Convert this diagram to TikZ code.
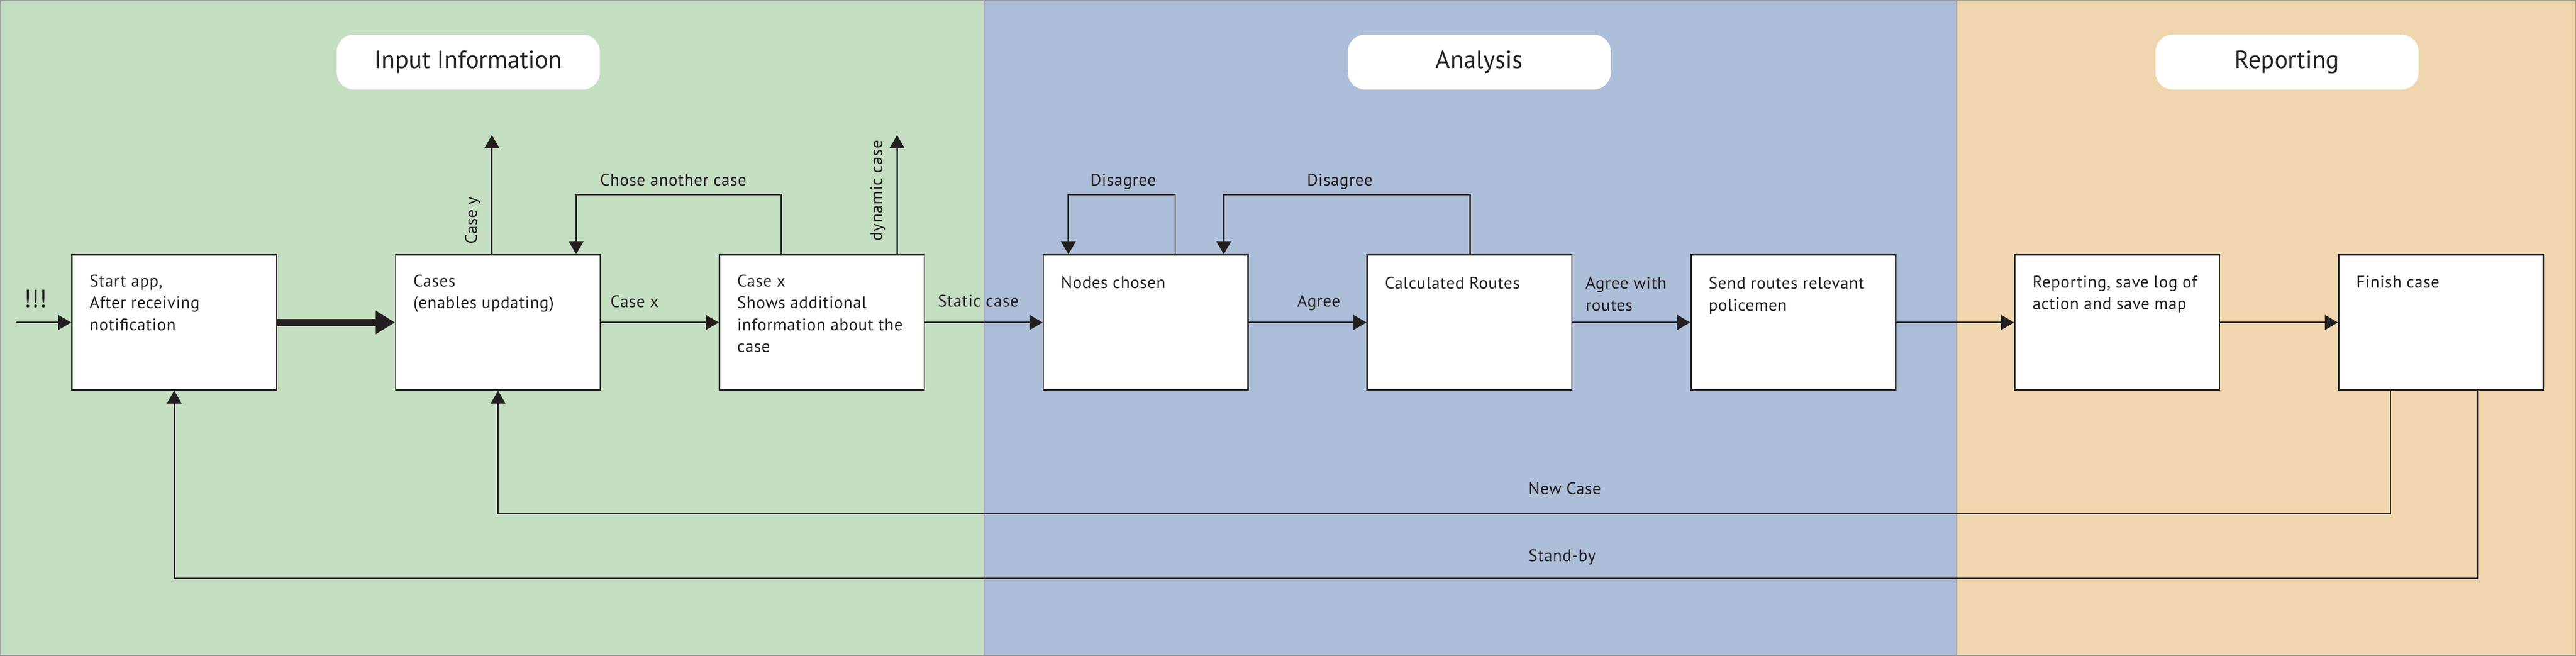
\documentclass[tikz,border=0pt]{standalone}
\usepackage{fontspec}
\setmainfont{PT Sans}
\newfontfamily\bodyfont{PT Sans}[LetterSpace=2.5]
\usetikzlibrary{calc,arrows.meta}

\definecolor{laneinput}{RGB}{197,223,194}
\definecolor{laneanalysis}{RGB}{173,190,216}
\definecolor{lanereport}{RGB}{239,214,174}
\definecolor{ink}{RGB}{35,31,32}
\definecolor{lanegray}{RGB}{147,149,152}

\begin{document}
\begin{tikzpicture}[font=\bodyfont\fontsize{13.2}{17.1}\selectfont, color=ink,
  lane/.style={draw=lanegray, line width=0.9pt},
  pill/.style={fill=white, rounded corners=0.48cm, minimum width=7.25cm, minimum height=1.51cm, font=\rmfamily\fontsize{19.5}{24}\selectfont},
  stepbox/.style={draw=ink, fill=white, line width=1.1pt, minimum width=5.64cm, minimum height=3.72cm, inner sep=0pt},
  boxtext/.style={anchor=north west, align=left, inner sep=0pt},
  lbl/.style={inner sep=0pt},
  link/.style={draw=ink, line width=1.1pt},
  flow/.style={link, -{Triangle[length=0.36cm,width=0.41cm]}},
  bigflow/.style={draw=ink, line width=0.2cm, -{Triangle[length=0.53cm,width=0.61cm]}}]
\useasboundingbox (0,0) rectangle (70.96,18.06);

% lanes
\fill[laneinput] (0,0) rectangle (27.11,18.06);
\fill[laneanalysis] (27.11,0) rectangle (53.90,18.06);
\fill[lanereport] (53.90,0) rectangle (70.96,18.06);
\draw[lane] (0,0) rectangle (27.11,18.06);
\draw[lane] (27.11,0) rectangle (53.90,18.06);
\draw[lane] (53.90,0) rectangle (70.96,18.06);

\node[pill] (tin) at (12.90,16.35) {Input Information};
\node[pill] (tan) at (40.75,16.35) {Analysis};
\node[pill] (trep) at (63.00,16.35) {Reporting};

% boxes
\coordinate (row) at (4.80,9.18);
\node[stepbox] (b1) at (row) {};
\node[stepbox] (b2) at ($(b1) + (8.92,0)$) {};
\node[stepbox] (b3) at ($(b2) + (8.92,0)$) {};
\node[stepbox] (b4) at ($(b3) + (8.92,0)$) {};
\node[stepbox] (b5) at ($(b4) + (8.92,0)$) {};
\node[stepbox] (b6) at ($(b5) + (8.92,0)$) {};
\node[stepbox] (b7) at ($(b6) + (8.92,0)$) {};
\node[stepbox] (b8) at ($(b7) + (8.92,0)$) {};

\node[boxtext] (t1) at ($(b1.north west) + (0.50,-0.56)$) {Start app,\\After receiving\\notification};
\node[boxtext] (t2) at ($(b2.north west) + (0.50,-0.56)$) {Cases\\(enables updating)};
\node[boxtext] (t3) at ($(b3.north west) + (0.50,-0.56)$) {Case x\\Shows additional\\information about the\\case};
\node[boxtext] (t4) at ($(b4.north west) + (0.50,-0.60)$) {Nodes chosen};
\node[boxtext] (t5) at ($(b5.north west) + (0.50,-0.62)$) {Calculated Routes};
\node[boxtext] (t6) at ($(b6.north west) + (0.50,-0.62)$) {Send routes relevant\\policemen};
\node[boxtext] (t7) at ($(b7.north west) + (0.50,-0.59)$) {Reporting, save log of\\action and save map};
\node[boxtext] (t8) at ($(b8.north west) + (0.50,-0.59)$) {Finish case};

% main flow
\coordinate (in) at (0.46,9.18);
\draw[flow] (in) -- (b1);
\node[lbl, anchor=base, font=\rmfamily\fontsize{19.5}{24}\selectfont] (alert) at (0.98,9.60) {!!!};

\draw[bigflow] (b1) -- (b2);
\draw[flow] (b2) -- (b3);
\draw[flow] (b3) -- (b4);
\draw[flow] (b4) -- (b5);
\draw[flow] (b5) -- (b6);
\draw[flow] (b6) -- (b7);
\draw[flow] (b7) -- (b8);

\node[lbl, anchor=base west] (lx) at ($(b2.east) + (0.25,0.42)$) {Case x};
\node[lbl, anchor=base west] (lst) at ($(b3.east) + (0.35,0.43)$) {Static case};
\node[lbl, anchor=base west] (lag) at ($(b4.east) + (1.33,0.43)$) {Agree};
\node[lbl, boxtext] (lagr) at ($(b5.east) + (0.35,1.26)$) {Agree with\\routes};

% branches above
\coordinate (ytop) at ($(b2.north) + (-0.17,3.28)$);
\draw[flow] (b2.north -| ytop) -- (ytop);
\node[lbl, rotate=90, anchor=base west] (ly) at ($(b2.north) + (-0.58,0.27)$) {Case y};

\coordinate (dtop) at ($(b3.north) + (2.07,3.28)$);
\draw[flow] (b3.north -| dtop) -- (dtop);
\node[lbl, rotate=90, anchor=base west] (ldyn) at ($(b3.north) + (1.66,0.36)$) {dynamic case};

\coordinate (cs) at ($(b3.north) + (-1.12,1.64)$);
\coordinate (ce) at ($(b2.north) + (2.15,1.64)$);
\draw[flow] (b3.north -| cs) -- (cs) -- (ce) -- (b2.north -| ce);
\node[lbl, anchor=base] (lch) at ($(cs)!0.5!(ce) + (-0.15,0.24)$) {Chose another case};

\coordinate (d1s) at ($(b4.north) + (0.81,1.64)$);
\coordinate (d1e) at ($(b4.north) + (-2.13,1.64)$);
\draw[flow] (b4.north -| d1s) -- (d1s) -- (d1e) -- (b4.north -| d1e);
\node[lbl, anchor=base] (ld1) at ($(d1s)!0.5!(d1e) + (0.04,0.24)$) {Disagree};

\coordinate (d2s) at ($(b5.north) + (0.02,1.64)$);
\coordinate (d2e) at ($(b4.north) + (2.15,1.64)$);
\draw[flow] (b5.north -| d2s) -- (d2s) -- (d2e) -- (b4.north -| d2e);
\node[lbl, anchor=base] (ld2) at ($(d2s)!0.5!(d2e) + (-0.20,0.24)$) {Disagree};

% feedback below
\coordinate (ncs) at ($(b8.south) + (-1.39,-3.39)$);
\draw[flow] (b8.south -| ncs) -- (ncs) -- (ncs -| b2.south) -- (b2.south);
\node[lbl, anchor=base west] (lnc) at (42.10,4.44) {New Case};

\coordinate (sbs) at ($(b8.south) + (1.00,-5.17)$);
\draw[flow] (b8.south -| sbs) -- (sbs) -- (sbs -| b1.south) -- (b1.south);
\node[lbl, anchor=base west] (lsb) at (42.10,2.60) {Stand-by};

\end{tikzpicture}
\end{document}
